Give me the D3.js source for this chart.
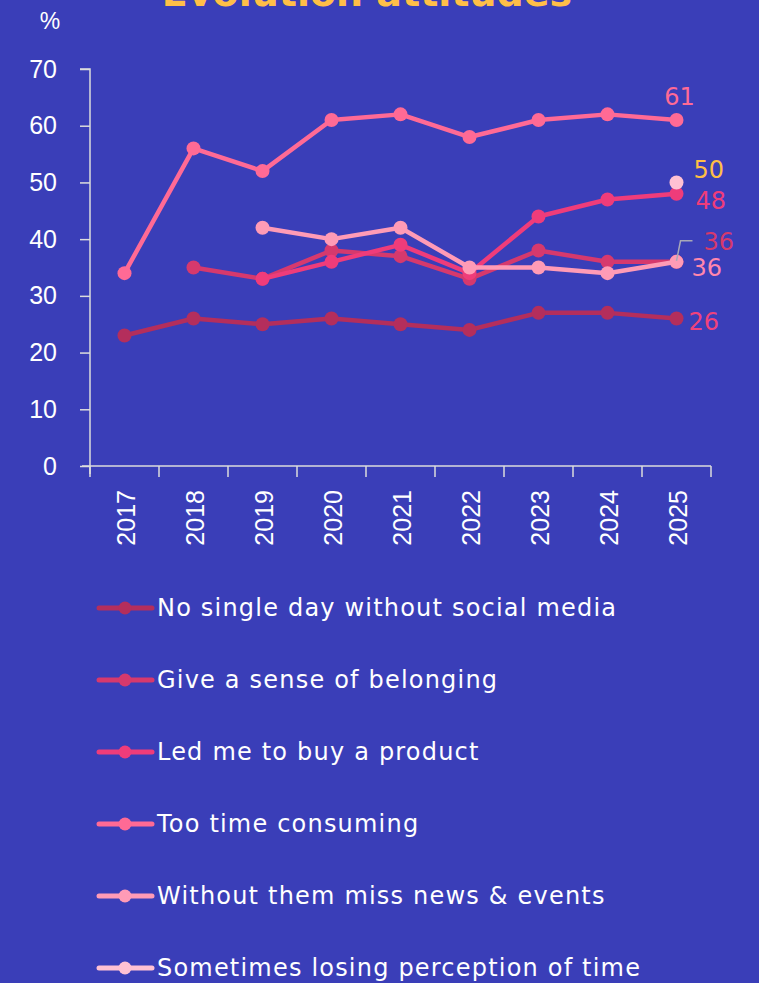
<!DOCTYPE html>
<html>
<head>
<meta charset="utf-8">
<script src="https://cdn.jsdelivr.net/npm/d3@7"></script>
<style>
  html, body { margin: 0; padding: 0; background: #3a3eb8; }
  svg { display: block; font-family: "DejaVu Sans", "Open Sans", sans-serif; }
  .axis-text { font-family: "Liberation Sans", Arial, sans-serif; }
</style>
</head>
<body>
<svg id="chart" width="759" height="983"></svg>
<script>
// Evolution of attitudes towards social media, % agreeing, 2017–2025

const years = ['2017', '2018', '2019', '2020', '2021', '2022', '2023', '2024', '2025'];

const seriesNames = [
  'No single day without social media',
  'Give a sense of belonging',
  'Led me to buy a product',
  'Too time consuming',
  'Without them miss news & events',
  'Sometimes losing perception of time',
];

// null = not asked that year
const noSingleDay   = [23, 26, 25, 26, 25, 24, 27, 27, 26];
const belonging     = [null, 35, 33, 38, 37, 33, 38, 36, 36];
const boughtProduct = [null, null, 33, 36, 39, 34, 44, 47, 48];
const timeConsuming = [34, 56, 52, 61, 62, 58, 61, 62, 61];
const missNews      = [null, null, 42, 40, 42, 35, 35, 34, 36];
const losingTime    = [null, null, null, null, null, null, null, null, 50];

const yTicks = [0, 10, 20, 30, 40, 50, 60, 70];

const allSeries = [noSingleDay, belonging, boughtProduct, timeConsuming, missNews, losingTime];

// styling
const lineColors  = ['#b42e5c', '#d6396d', '#ef3c7a', '#ff6a95', '#ff9bb6', '#ffc1d3'];
const labelColors = ['#f0427c', '#d6396d', '#ef3c7a', '#ff6a95', '#ff86ad', '#ffbe46'];
// end-label offsets from last point [dx, dy]
const labelOffsets = [[12, 3], [27, -20], [19, 7], [3, -23], [15, 6], [17, -13]];

const svg = d3.select('#chart');

const x = d3.scaleBand().domain(years).range([90, 711]);
const y = d3.scaleLinear().domain([0, 70]).range([466, 69]);
const cx = (i) => x(years[i]) + x.bandwidth() / 2;

// title (cut off at the top in the original)
svg.append('text')
  .attr('x', 367).attr('y', 6)
  .attr('text-anchor', 'middle')
  .attr('fill', '#ffbf48')
  .style('font-size', '38px')
  .style('font-weight', 700)
  .text('Evolution attitudes');

// unit label
svg.append('text')
  .attr('class', 'axis-text')
  .attr('x', 50).attr('y', 29)
  .attr('text-anchor', 'middle')
  .attr('fill', '#fff')
  .style('font-size', '23px')
  .text('%');

// y axis
const yAxis = svg.append('g')
  .attr('transform', 'translate(90,0)')
  .call(d3.axisLeft(y).tickValues(yTicks).tickSize(10).tickPadding(23));
yAxis.select('.domain').attr('stroke', '#dcdcdc').attr('stroke-width', 1.5)
  .attr('d', 'M-10,69H0V474');
yAxis.selectAll('.tick line').attr('stroke', '#dcdcdc').attr('stroke-width', 1.5);
yAxis.selectAll('.tick text').attr('class', 'axis-text').attr('fill', '#fff')
  .style('font-size', '25px');

// x axis, ticks between categories
const xAxis = svg.append('g').attr('transform', 'translate(0,466)');
xAxis.append('line')
  .attr('x1', 82).attr('x2', 711).attr('stroke', '#dcdcdc').attr('stroke-width', 1.5);
xAxis.selectAll('.xtick')
  .data(years.concat(['end']))
  .join('line')
  .attr('class', 'xtick')
  .attr('x1', (d) => (d === 'end' ? x.range()[1] : x(d)))
  .attr('x2', (d) => (d === 'end' ? x.range()[1] : x(d)))
  .attr('y1', 0).attr('y2', 11)
  .attr('stroke', '#dcdcdc').attr('stroke-width', 1.5);
xAxis.selectAll('.xlabel')
  .data(years)
  .join('text')
  .attr('class', 'xlabel axis-text')
  .attr('transform', (d) => `translate(${x(d) + x.bandwidth() / 2 + 10.5},24) rotate(-90)`)
  .attr('text-anchor', 'end')
  .attr('fill', '#fff')
  .style('font-size', '25px')
  .text((d) => d);

// lines and points
const line = d3.line()
  .defined((d) => d != null)
  .x((d, i) => cx(i))
  .y((d) => y(d));

allSeries.forEach((vals, s) => {
  const g = svg.append('g');
  g.append('path').datum(vals)
    .attr('d', line)
    .attr('fill', 'none')
    .attr('stroke', lineColors[s])
    .attr('stroke-width', 4.5)
    .attr('stroke-linejoin', 'round');
  g.selectAll('circle')
    .data(vals.map((v, i) => ({ v, i })).filter((d) => d.v != null))
    .join('circle')
    .attr('cx', (d) => cx(d.i))
    .attr('cy', (d) => y(d.v))
    .attr('r', 7)
    .attr('fill', lineColors[s]);
});

// leader line for the "belonging" end label
const lastI = years.length - 1;
svg.append('path')
  .attr('d', `M${cx(lastI)},${y(belonging[lastI]) - 1} L${cx(lastI) + 4},${y(belonging[lastI]) - 21} H${cx(lastI) + 16}`)
  .attr('fill', 'none')
  .attr('stroke', '#a8a8b8')
  .attr('stroke-width', 1.5);

// end labels
allSeries.forEach((vals, s) => {
  const v = vals[lastI];
  svg.append('text')
    .attr('x', cx(lastI) + labelOffsets[s][0])
    .attr('y', y(v) + labelOffsets[s][1])
    .attr('dy', '0.35em')
    .attr('text-anchor', s === 3 ? 'middle' : 'start')
    .attr('fill', labelColors[s])
    .style('font-size', '24px')
    .text(v);
});

// legend
const legend = svg.append('g').attr('transform', 'translate(0,608)');
const item = legend.selectAll('g')
  .data(seriesNames)
  .join('g')
  .attr('transform', (d, i) => `translate(0,${i * 72})`);
item.append('line')
  .attr('x1', 99).attr('x2', 152)
  .attr('stroke', (d, i) => lineColors[i])
  .attr('stroke-width', 5)
  .attr('stroke-linecap', 'round');
item.append('circle')
  .attr('cx', 125).attr('r', 6.5)
  .attr('fill', (d, i) => lineColors[i]);
item.append('text')
  .attr('x', 157).attr('dy', '0.35em')
  .attr('fill', '#fff')
  .style('font-size', '24px')
  .style('letter-spacing', '1.2px')
  .text((d) => d);
</script>
</body>
</html>
